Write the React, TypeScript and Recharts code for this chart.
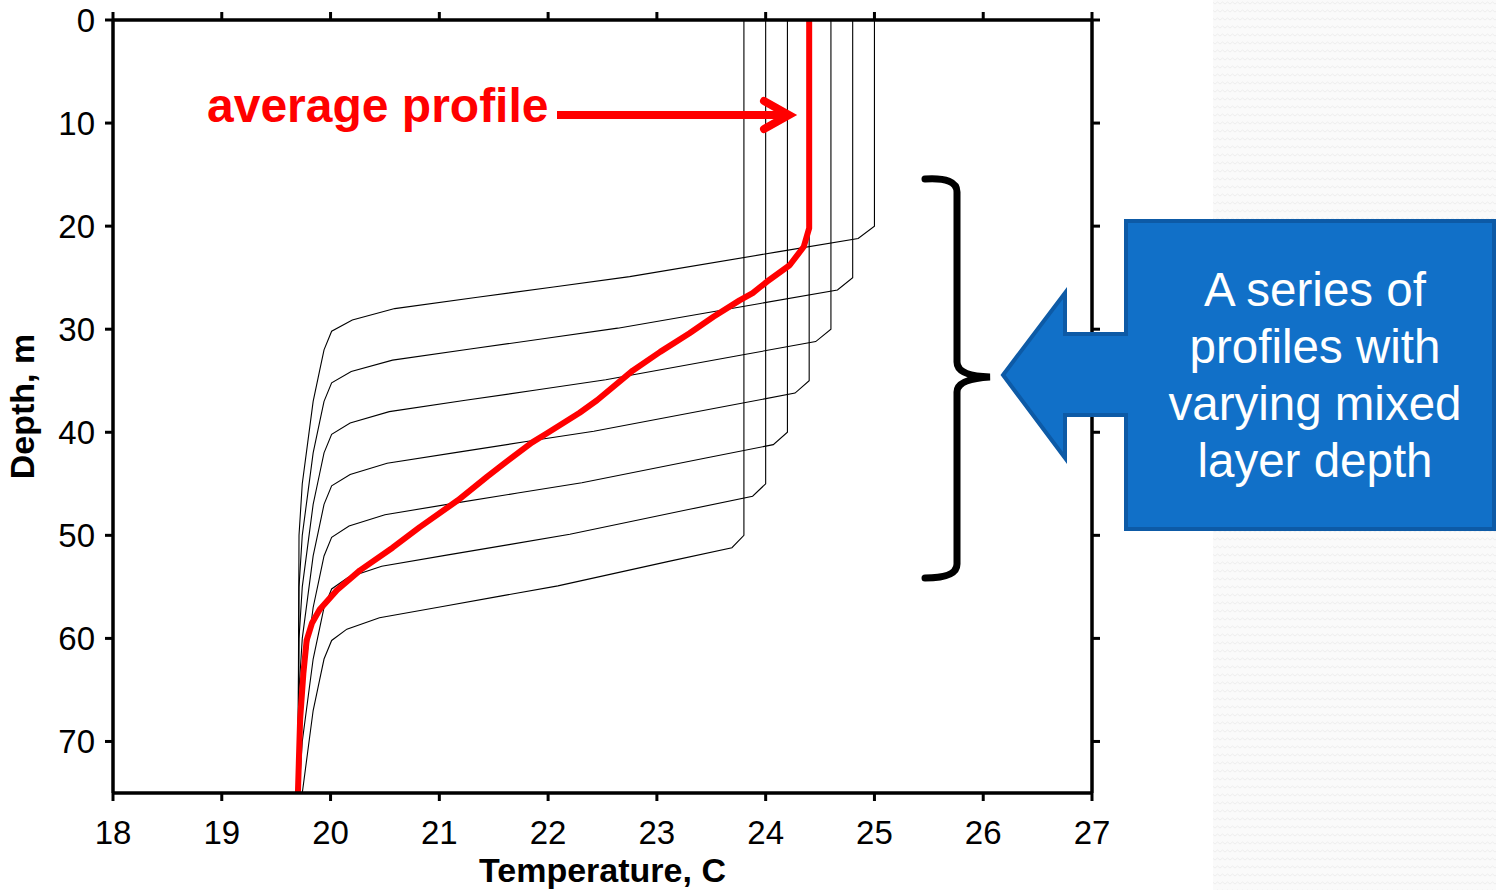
import React from 'react';
import { LineChart, Line, XAxis, YAxis } from 'recharts';

// [temperature °C, depth m]
const profile1: [number, number][] = [
    [25.0, 0], [25.0, 20], [24.85, 21.2], [24.11, 22.5], [22.75, 24.9], [22.05, 25.9], [21.35, 26.9],
    [20.59, 28], [20.2, 29.1], [20.01, 30.2], [19.94, 32], [19.9, 34], [19.84, 37], [19.79, 41],
    [19.74, 45], [19.71, 50], [19.7, 75],
];
const profile2: [number, number][] = [
    [24.8, 0], [24.8, 25], [24.66, 26.2], [23.95, 27.5], [22.64, 29.9], [21.97, 30.9], [21.3, 31.9],
    [20.57, 33], [20.19, 34.1], [20.01, 35.2], [19.94, 37], [19.9, 39], [19.84, 42], [19.79, 46],
    [19.74, 50], [19.71, 55], [19.7, 75],
];
const profile3: [number, number][] = [
    [24.6, 0], [24.6, 30], [24.46, 31.2], [23.78, 32.5], [22.53, 34.9], [21.89, 35.9], [21.24, 36.9],
    [20.54, 38], [20.18, 39.1], [20.01, 40.2], [19.94, 42], [19.9, 44], [19.84, 47], [19.79, 51],
    [19.74, 55], [19.71, 60], [19.7, 75],
];
const profile4: [number, number][] = [
    [24.4, 0], [24.4, 35], [24.27, 36.2], [23.62, 37.5], [22.42, 39.9], [21.8, 40.9], [21.19, 41.9],
    [20.52, 43], [20.18, 44.1], [20.01, 45.2], [19.94, 47], [19.9, 49], [19.84, 52], [19.79, 56],
    [19.74, 60], [19.71, 65], [19.7, 75],
];
const profile5: [number, number][] = [
    [24.2, 0], [24.2, 40], [24.07, 41.2], [23.45, 42.5], [22.31, 44.9], [21.72, 45.9], [21.13, 46.9],
    [20.5, 48], [20.17, 49.1], [20.01, 50.2], [19.94, 52], [19.9, 54], [19.84, 57], [19.79, 61],
    [19.74, 65], [19.71, 70], [19.7, 75],
];
const profile6: [number, number][] = [
    [24.0, 0], [24.0, 45], [23.88, 46.2], [23.29, 47.5], [22.2, 49.9], [21.64, 50.9], [21.08, 51.9],
    [20.47, 53], [20.16, 54.1], [20.01, 55.2], [19.94, 57], [19.9, 59], [19.84, 62], [19.79, 66],
    [19.74, 70], [19.71, 75],
];
const profile7: [number, number][] = [
    [23.8, 0], [23.8, 50], [23.69, 51.2], [23.12, 52.5], [22.09, 54.9], [21.56, 55.9], [21.03, 56.9],
    [20.45, 58], [20.15, 59.1], [20.01, 60.2], [19.94, 62], [19.9, 64], [19.84, 67], [19.79, 71],
    [19.74, 75],
];
const averageProfile: [number, number][] = [
    [24.4, 0], [24.4, 20.2], [24.35, 22], [24.22, 23.8], [24.01, 25.4], [23.88, 26.5], [23.76, 27.2],
    [23.52, 28.8], [23.3, 30.4], [23.03, 32.2], [22.78, 34], [22.45, 36.9], [22.29, 38.1],
    [21.99, 40.1], [21.85, 41.0], [21.6, 43], [21.44, 44.3], [21.17, 46.6], [20.82, 49.2],
    [20.57, 51.2], [20.27, 53.4], [20.06, 55.3], [19.9, 57.2], [19.83, 58.5], [19.78, 60.2],
    [19.75, 63.4], [19.72, 67.9], [19.7, 75],
];

const xTicks = [18, 19, 20, 21, 22, 23, 24, 25, 26, 27];
const yTicks = [0, 10, 20, 30, 40, 50, 60, 70];
const calloutLines = ['A series of', 'profiles with', 'varying mixed', 'layer depth'];

const toRows = (p: [number, number][]) => p.map(([t, d]) => ({ t, d }));
const profiles = [profile1, profile2, profile3, profile4, profile5, profile6, profile7].map(toRows);

const FONT = '"Liberation Sans", Arial, sans-serif';
const axisLine = { stroke: '#000', strokeWidth: 3.5 };
const tickLine = { stroke: '#000', strokeWidth: 3 };
const noLabel = () => <g />;

const App: React.FC = () => {
    return (
        <div style={{ position: 'absolute', left: 0, top: 0, width: 1496, height: 890, background: '#fff', fontFamily: FONT }}>
            <svg width={1496} height={890} style={{ position: 'absolute', left: 0, top: 0 }}>
                <defs>
                    <pattern id="bgp" width="10" height="8" patternUnits="userSpaceOnUse">
                        <rect width="10" height="8" fill="#fafafa" />
                        <path d="M0 4 L2.5 2 L5 4 L7.5 2 L10 4" stroke="#eeeeee" strokeWidth="1" fill="none" />
                    </pattern>
                </defs>
                <rect x={1213} y={0} width={283} height={890} fill="url(#bgp)" />
            </svg>
            <div style={{ position: 'absolute', left: 0, top: 0 }}>
                <LineChart width={1496} height={890} margin={{ top: 19, right: 403, bottom: 0, left: 0 }}>
                    <XAxis
                        xAxisId="b"
                        type="number"
                        dataKey="t"
                        domain={[18, 27]}
                        ticks={xTicks}
                        allowDataOverflow
                        height={97}
                        tickSize={8}
                        tickMargin={20}
                        axisLine={axisLine}
                        tickLine={tickLine}
                        tick={{ fontSize: 33, fill: '#000', fontFamily: FONT }}
                        label={{
                            value: 'Temperature, C',
                            position: 'insideBottom',
                            offset: 8,
                            style: { fontSize: 34, fontWeight: 'bold', fill: '#000', fontFamily: FONT },
                        }}
                    />
                    <XAxis
                        xAxisId="top"
                        orientation="top"
                        type="number"
                        dataKey="t"
                        domain={[18, 27]}
                        ticks={xTicks}
                        allowDataOverflow
                        height={1}
                        tickSize={8}
                        axisLine={axisLine}
                        tickLine={tickLine}
                        tick={noLabel}
                    />
                    <YAxis
                        yAxisId="l"
                        type="number"
                        dataKey="d"
                        domain={[0, 75]}
                        reversed
                        ticks={yTicks}
                        allowDataOverflow
                        width={113}
                        tickSize={8}
                        tickMargin={10}
                        axisLine={axisLine}
                        tickLine={tickLine}
                        tick={{ fontSize: 33, fill: '#000', fontFamily: FONT }}
                        label={{
                            value: 'Depth, m',
                            angle: -90,
                            position: 'insideLeft',
                            offset: 22,
                            style: { textAnchor: 'middle', fontSize: 34, fontWeight: 'bold', fill: '#000', fontFamily: FONT },
                        }}
                    />
                    <YAxis
                        yAxisId="r"
                        orientation="right"
                        type="number"
                        domain={[0, 75]}
                        reversed
                        ticks={yTicks}
                        allowDataOverflow
                        width={1}
                        tickSize={8}
                        axisLine={axisLine}
                        tickLine={tickLine}
                        tick={noLabel}
                    />
                    {profiles.map((p, i) => (
                        <Line
                            key={i}
                            xAxisId="b"
                            yAxisId="l"
                            data={p}
                            dataKey="d"
                            type="linear"
                            stroke="#000"
                            strokeWidth={1.1}
                            dot={false}
                            isAnimationActive={false}
                        />
                    ))}
                    <Line
                        xAxisId="b"
                        yAxisId="l"
                        data={toRows(averageProfile)}
                        dataKey="d"
                        type="linear"
                        stroke="#ff0000"
                        strokeWidth={6}
                        strokeLinejoin="round"
                        dot={false}
                        isAnimationActive={false}
                    />
                </LineChart>
            </div>
            <svg width={1496} height={890} style={{ position: 'absolute', left: 0, top: 0, pointerEvents: 'none' }}>
                {/* average profile label + arrow */}
                <text x={207} y={122} fill="#ff0000" fontSize={48} fontWeight="bold" fontFamily={FONT}>
                    average profile
                </text>
                <line x1={557} y1={115} x2={786} y2={115} stroke="#ff0000" strokeWidth={8} />
                <polyline
                    points="764,101 789,115 764,129"
                    fill="none"
                    stroke="#ff0000"
                    strokeWidth={8}
                    strokeLinecap="round"
                    strokeLinejoin="miter"
                />
                {/* brace */}
                <path
                    d="M925 179 Q957 177 957 192 L957 362 Q957 376 990 377 Q957 379 957 392 L957 564 Q957 578 925 578"
                    fill="none"
                    stroke="#000"
                    strokeWidth={7}
                    strokeLinecap="round"
                />
                {/* callout */}
                <polygon
                    points="1126,221 1494,221 1494,529 1126,529 1126,415 1065,415 1065,458 1003,375 1065,293 1065,334 1126,334"
                    fill="#1170c8"
                    stroke="#0d5aa6"
                    strokeWidth={4}
                />
                {calloutLines.map((s, i) => (
                    <text key={s} x={1315} y={306 + i * 57} fill="#fff" fontSize={47.5} textAnchor="middle" fontFamily={FONT}>
                        {s}
                    </text>
                ))}
            </svg>
        </div>
    );
};

export default App;
